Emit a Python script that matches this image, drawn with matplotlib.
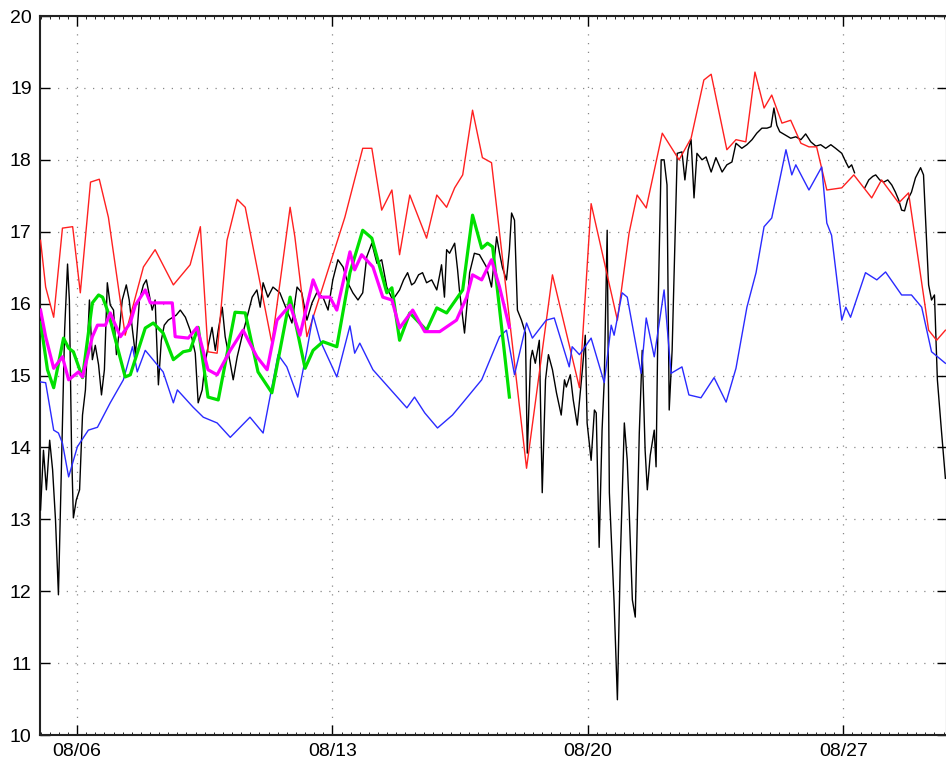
import numpy as np
import matplotlib
matplotlib.use("Agg")
import matplotlib.pyplot as plt
from matplotlib.ticker import FixedLocator, MultipleLocator

plt.rcParams['font.family'] = ['Liberation Sans', 'DejaVu Sans']

# ---- data: (day of August, value) ----
red_pts = [(5.00, 16.88), (5.14, 16.23), (5.36, 15.81), (5.60, 17.05), (5.88, 17.07), (6.09, 16.15),
           (6.37, 17.69), (6.61, 17.73), (6.86, 17.20), (7.32, 15.56), (7.82, 16.51), (8.14, 16.75),
           (8.64, 16.26), (9.10, 16.54), (9.38, 17.07), (9.59, 15.33), (9.84, 15.31), (10.11, 16.88),
           (10.39, 17.45), (10.61, 17.34), (11.34, 15.45), (11.84, 17.34), (11.97, 16.93), (12.30, 15.54),
           (12.47, 15.81), (13.34, 17.20), (13.83, 18.16), (14.08, 18.16), (14.35, 17.30), (14.63, 17.58),
           (14.84, 16.68), (15.12, 17.51), (15.58, 16.91), (15.86, 17.51), (16.13, 17.34), (16.35, 17.61),
           (16.57, 17.79), (16.84, 18.69), (17.11, 18.03), (17.36, 17.96), (18.32, 13.71), (19.03, 16.40),
           (19.77, 14.83), (20.09, 17.39), (20.81, 15.77), (21.13, 16.98), (21.35, 17.51), (21.60, 17.33),
           (22.04, 18.37), (22.50, 18.00), (22.83, 18.30), (23.18, 19.11), (23.38, 19.19), (23.81, 18.14),
           (24.06, 18.28), (24.33, 18.25), (24.58, 19.22), (24.83, 18.72), (25.04, 18.90), (25.32, 18.51),
           (25.56, 18.55), (25.84, 18.23), (26.06, 18.18), (26.27, 18.18), (26.55, 17.58), (26.96, 17.61),
           (27.29, 17.79), (27.78, 17.47), (28.05, 17.72), (28.52, 17.40), (28.79, 17.54), (29.34, 15.63),
           (29.56, 15.49), (29.80, 15.63)]

blue_pts = [(5.00, 14.91), (5.14, 14.90), (5.36, 14.24), (5.49, 14.20), (5.60, 14.06), (5.77, 13.59),
            (6.01, 14.01), (6.31, 14.24), (6.56, 14.28), (6.91, 14.62), (7.27, 14.94), (7.52, 15.40),
            (7.65, 15.05), (7.87, 15.35), (8.36, 15.05), (8.64, 14.62), (8.75, 14.80), (9.18, 14.56),
            (9.46, 14.42), (9.84, 14.34), (10.20, 14.14), (10.74, 14.42), (11.10, 14.20), (11.51, 15.29),
            (11.75, 15.12), (12.05, 14.70), (12.30, 15.35), (12.47, 15.84), (12.66, 15.49), (13.12, 14.98),
            (13.48, 15.69), (13.61, 15.31), (13.75, 15.45), (14.11, 15.08), (15.04, 14.55), (15.25, 14.70),
            (15.53, 14.48), (15.88, 14.27), (16.29, 14.45), (16.57, 14.62), (17.09, 14.94), (17.58, 15.54),
            (17.77, 15.63), (17.99, 15.01), (18.32, 15.73), (18.48, 15.52), (18.86, 15.77), (19.08, 15.80),
            (19.49, 15.12), (19.57, 15.40), (19.77, 15.29), (20.09, 15.52), (20.45, 14.90), (20.64, 15.70),
            (20.72, 15.56), (20.94, 16.15), (21.08, 16.09), (21.46, 15.03), (21.60, 15.80), (21.82, 15.26),
            (22.09, 16.19), (22.28, 15.03), (22.58, 15.12), (22.77, 14.73), (23.10, 14.69), (23.46, 14.97),
            (23.79, 14.63), (24.06, 15.10), (24.36, 15.95), (24.61, 16.43), (24.83, 17.07), (25.04, 17.19),
            (25.43, 18.14), (25.59, 17.79), (25.70, 17.93), (26.06, 17.58), (26.41, 17.90), (26.55, 17.12),
            (26.68, 16.95), (26.96, 15.77), (27.07, 15.95), (27.20, 15.81), (27.61, 16.43), (27.92, 16.33),
            (28.16, 16.44), (28.60, 16.12), (28.87, 16.12), (29.15, 15.95), (29.42, 15.33), (29.80, 15.17)]

green_pts = [(5.00, 15.74), (5.19, 15.08), (5.36, 14.83), (5.63, 15.52), (5.77, 15.38), (5.90, 15.33),
             (6.15, 14.97), (6.42, 16.01), (6.59, 16.12), (6.70, 16.09), (6.86, 15.87), (7.32, 14.98),
             (7.46, 15.01), (7.87, 15.66), (8.09, 15.73), (8.36, 15.59), (8.64, 15.22), (8.91, 15.33),
             (9.10, 15.35), (9.32, 15.67), (9.59, 14.70), (9.87, 14.66), (10.33, 15.88), (10.61, 15.87),
             (10.96, 15.05), (11.34, 14.76), (11.84, 16.09), (12.25, 15.10), (12.47, 15.35), (12.74, 15.47),
             (13.12, 15.40), (13.48, 16.43), (13.83, 17.02), (14.08, 16.91), (14.49, 16.15), (14.63, 16.22),
             (14.84, 15.49), (15.12, 15.87), (15.58, 15.63), (15.86, 15.94), (16.13, 15.87), (16.57, 16.19),
             (16.84, 17.23), (17.09, 16.77), (17.25, 16.84), (17.39, 16.79), (17.85, 14.70)]

magenta_pts = [(5.00, 15.91), (5.14, 15.54), (5.36, 15.10), (5.60, 15.26), (5.77, 14.94), (6.04, 15.05),
               (6.15, 14.98), (6.42, 15.54), (6.56, 15.70), (6.78, 15.70), (6.91, 15.87), (7.19, 15.54),
               (7.46, 15.73), (7.60, 15.98), (7.87, 16.19), (8.01, 16.01), (8.36, 16.01), (8.61, 16.01),
               (8.69, 15.54), (9.05, 15.52), (9.29, 15.67), (9.59, 15.08), (9.84, 15.01), (10.20, 15.35),
               (10.55, 15.63), (10.93, 15.26), (11.21, 15.08), (11.48, 15.77), (11.84, 15.98), (12.11, 15.56),
               (12.47, 16.33), (12.66, 16.09), (12.93, 16.09), (13.12, 15.91), (13.48, 16.72), (13.61, 16.47),
               (13.80, 16.68), (14.11, 16.51), (14.38, 16.09), (14.63, 16.05), (14.84, 15.66), (15.20, 15.91),
               (15.53, 15.61), (15.94, 15.61), (16.40, 15.77), (16.68, 16.09), (16.84, 16.40), (17.09, 16.33),
               (17.36, 16.61), (17.58, 16.23), (17.85, 15.67)]

black_pts = [
    (5.00, 13.13), (5.08, 13.96), (5.16, 13.41), (5.25, 14.10), (5.33, 13.69), (5.41, 12.99), (5.49, 11.95),
    (5.57, 13.69), (5.66, 15.63), (5.74, 16.55), (5.79, 16.05), (5.85, 13.96), (5.90, 13.02), (5.98, 13.27),
    (6.07, 13.41), (6.15, 14.45), (6.23, 14.80), (6.29, 15.49), (6.34, 16.05), (6.42, 15.22), (6.50, 15.42),
    (6.59, 15.15), (6.67, 14.73), (6.75, 15.08), (6.83, 16.29), (6.91, 15.98), (7.00, 15.91), (7.08, 15.29),
    (7.16, 15.63), (7.24, 16.05), (7.35, 16.26), (7.43, 16.05), (7.52, 15.63), (7.60, 15.29), (7.71, 16.05),
    (7.82, 16.26), (7.90, 16.33), (7.98, 16.12), (8.06, 15.91), (8.14, 16.05), (8.23, 14.87), (8.31, 15.49),
    (8.39, 15.70), (8.50, 15.77), (8.72, 15.84), (8.83, 15.91), (8.97, 15.81), (9.10, 15.63), (9.24, 15.31),
    (9.32, 14.62), (9.43, 14.80), (9.51, 15.17), (9.59, 15.40), (9.70, 15.67), (9.79, 15.35), (9.87, 15.63),
    (9.98, 15.95), (10.06, 15.54), (10.20, 15.17), (10.28, 14.94), (10.39, 15.26), (10.52, 15.54),
    (10.66, 15.81), (10.80, 16.09), (10.93, 16.19), (11.02, 15.95), (11.10, 16.29), (11.23, 16.09),
    (11.37, 16.23), (11.56, 16.15), (11.75, 15.91), (11.89, 15.73), (12.03, 16.23), (12.16, 16.15),
    (12.30, 15.77), (12.44, 16.01), (12.57, 16.15), (12.74, 16.09), (12.88, 15.91), (13.01, 16.33),
    (13.15, 16.61), (13.29, 16.51), (13.42, 16.29), (13.56, 16.15), (13.70, 16.05), (13.83, 16.15),
    (13.94, 16.65), (14.08, 16.84), (14.22, 16.56), (14.35, 16.61), (14.49, 16.23), (14.65, 16.05),
    (14.84, 16.19), (14.95, 16.33), (15.06, 16.43), (15.17, 16.26), (15.25, 16.29), (15.36, 16.40),
    (15.47, 16.43), (15.58, 16.29), (15.72, 16.33), (15.86, 16.19), (15.94, 16.40), (15.99, 16.54),
    (16.07, 16.09), (16.13, 16.75), (16.21, 16.70), (16.35, 16.84), (16.43, 16.47), (16.48, 16.19),
    (16.62, 15.59), (16.70, 16.05), (16.76, 16.43), (16.89, 16.70), (17.03, 16.68), (17.14, 16.58),
    (17.22, 16.51), (17.36, 16.23), (17.50, 16.93), (17.58, 16.70), (17.66, 16.50), (17.77, 16.33),
    (17.85, 16.75), (17.91, 17.26), (17.99, 17.16), (18.07, 15.91), (18.18, 15.77), (18.29, 15.59),
    (18.34, 13.92), (18.43, 15.22), (18.48, 15.35), (18.56, 15.17), (18.67, 15.49), (18.75, 13.37),
    (18.84, 14.94), (18.92, 15.29), (19.03, 15.08), (19.14, 14.76), (19.27, 14.45), (19.36, 14.94),
    (19.41, 14.84), (19.52, 15.01), (19.60, 14.66), (19.71, 14.31), (19.85, 15.08), (19.93, 15.56),
    (19.98, 14.34), (20.09, 13.82), (20.18, 14.52), (20.23, 14.48), (20.31, 12.61), (20.39, 14.24),
    (20.45, 14.94), (20.53, 17.02), (20.59, 13.37), (20.67, 12.43), (20.72, 11.84), (20.81, 10.49),
    (20.89, 12.43), (21.00, 14.34), (21.08, 13.82), (21.13, 13.16), (21.22, 11.88), (21.30, 11.64),
    (21.35, 12.85), (21.41, 14.20), (21.49, 15.35), (21.57, 13.96), (21.63, 13.41), (21.71, 13.89),
    (21.82, 14.24), (21.87, 13.73), (21.93, 16.05), (22.01, 18.00), (22.09, 18.00), (22.17, 17.65),
    (22.23, 14.52), (22.31, 15.35), (22.36, 16.33), (22.45, 18.09), (22.58, 18.11), (22.66, 17.72),
    (22.75, 18.14), (22.83, 18.28), (22.91, 17.47), (22.99, 18.09), (23.13, 18.00), (23.24, 18.04),
    (23.38, 17.83), (23.51, 18.03), (23.68, 17.83), (23.81, 17.93), (23.95, 17.97), (24.06, 18.23),
    (24.22, 18.16), (24.36, 18.21), (24.50, 18.28), (24.63, 18.37), (24.77, 18.44), (24.91, 18.44),
    (25.02, 18.46), (25.10, 18.72), (25.18, 18.48), (25.26, 18.39), (25.43, 18.34), (25.56, 18.30),
    (25.70, 18.32), (25.84, 18.28), (25.97, 18.36), (26.11, 18.25), (26.25, 18.19), (26.38, 18.21),
    (26.52, 18.16), (26.66, 18.21), (26.79, 18.16), (26.96, 18.09), (27.07, 17.97), (27.15, 17.89),
    (27.23, 17.93), (27.31, 17.82), (27.45, np.nan), (27.59, 17.61), (27.70, 17.72), (27.81, 17.77),
    (27.89, 17.79), (28.00, 17.72), (28.11, 17.69), (28.22, 17.72), (28.33, 17.65), (28.43, 17.55),
    (28.52, 17.44), (28.60, 17.30), (28.68, 17.29), (28.76, 17.44), (28.87, 17.55), (28.98, 17.75),
    (29.12, 17.89), (29.20, 17.79), (29.34, 16.26), (29.42, 16.05), (29.50, 16.12), (29.58, 14.94),
    (29.69, 14.24), (29.80, 13.57)]

tick_days = [6, 13, 20, 27]
tick_labels = ['08/06', '08/13', '08/20', '08/27']
y_ticks = [10, 11, 12, 13, 14, 15, 16, 17, 18, 19, 20]


def split(pts):
    d, v = zip(*pts)
    return np.array(d, float), np.array(v, float)


# ---- figure ----
W, H = 946, 767
fig = plt.figure(figsize=(W / 100, H / 100), dpi=100)
ax = fig.add_axes([40 / W, (H - 735) / H, (946.5 - 40) / W, (735 - 16) / H])

ax.plot(*split(black_pts), color='black', lw=1.0, zorder=3)
ax.plot(*split(red_pts), color='#ff2020', lw=1.0, zorder=4)
ax.plot(*split(blue_pts), color='#2a2aff', lw=1.0, zorder=4)
ax.plot(*split(green_pts), color='#00e000', lw=2.3, zorder=5)
ax.plot(*split(magenta_pts), color='#ff00ff', lw=2.3, zorder=6)

ax.set_xlim(4.985, 29.83)
ax.set_ylim(10, 20)
ax.xaxis.set_major_locator(FixedLocator(tick_days))
ax.set_xticklabels(tick_labels)
ax.xaxis.set_minor_locator(MultipleLocator(0.25))
ax.set_yticks(y_ticks)
ax.set_yticklabels([str(v) for v in y_ticks])

ax.tick_params(axis='both', which='major', direction='in', length=7, width=1.0,
               top=True, right=True, labelsize=14, colors='black', pad=6)
ax.tick_params(axis='x', which='minor', direction='in', length=2.5, width=0.6,
               top=True, bottom=True)
ax.grid(True, which='major', linestyle=(0, (1, 6)), color='#888888', lw=0.9)
for s in ax.spines.values():
    s.set_linewidth(1.5)
    s.set_color('#222222')

fig.savefig('out.png', dpi=100)
